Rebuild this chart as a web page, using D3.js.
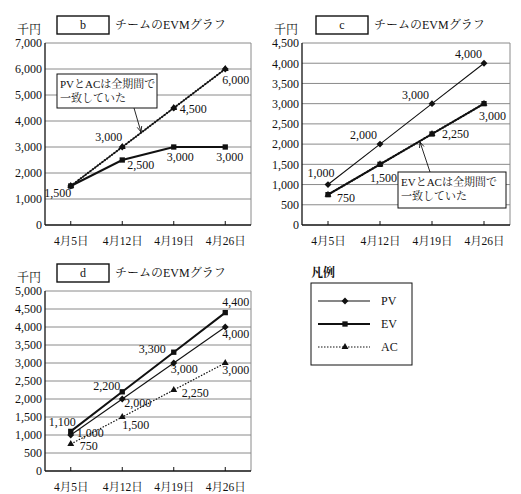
<!DOCTYPE html>
<html>
<head>
<meta charset="utf-8">
<script src="https://cdn.jsdelivr.net/npm/d3@7"></script>
<style>
  body { margin: 0; background: #fff; }
  svg text { font-family: "Liberation Serif", "Noto Serif CJK JP", "Noto Sans CJK JP", serif; fill: #111; }
</style>
</head>
<body>
<div id="container"></div>
<script>
"use strict";

// data
const dates = ["4月5日", "4月12日", "4月19日", "4月26日"];

const bPV = [1500, 3000, 4500, 6000];
const bEV = [1500, 2500, 3000, 3000];
const bAC = [1500, 3000, 4500, 6000];

const cPV = [1000, 2000, 3000, 4000];
const cEV = [750, 1500, 2250, 3000];
const cAC = [750, 1500, 2250, 3000];

const dPV = [1000, 2000, 3000, 4000];
const dEV = [1100, 2200, 3300, 4400];
const dAC = [750, 1500, 2250, 3000];

const seriesNames = ["PV", "EV", "AC"];

const svg = d3.select("#container")
    .append("svg")
    .attr("width", 521)
    .attr("height", 494);

const fmt = d3.format(",");

// marker shapes
const markerSym = {
  PV: d3.symbol().type(d3.symbolDiamond2).size(30),
  EV: d3.symbol().type(d3.symbolSquare2).size(36),
  AC: d3.symbol().type(d3.symbolTriangle2).size(34)
};
const lineStyle = {
  PV: { w: 1.1, dash: null },
  EV: { w: 2, dash: null },
  AC: { w: 1.2, dash: "1.5,1.5" }
};

function drawChart(cfg) {
  const g = svg.append("g");
  const x = d3.scalePoint().domain(dates).range([cfg.x0, cfg.x1]).padding(0.5);
  const y = d3.scaleLinear().domain([0, cfg.yMax]).range([cfg.y1, cfg.y0]);
  const ticks = d3.range(0, cfg.yMax + 1, cfg.step);

  // grid
  g.selectAll(".grid")
    .data(ticks.filter(t => t > 0))
    .enter().append("line")
      .attr("x1", cfg.x0).attr("x2", cfg.x1)
      .attr("y1", d => y(d)).attr("y2", d => y(d))
      .attr("stroke", "#8a8a8a").attr("stroke-width", 1);
  g.append("line")
    .attr("x1", cfg.x1).attr("x2", cfg.x1)
    .attr("y1", cfg.y0).attr("y2", cfg.y1)
    .attr("stroke", "#8a8a8a");

  // y axis
  const ya = g.append("g")
    .attr("transform", `translate(${cfg.x0},0)`)
    .call(d3.axisLeft(y).tickValues(ticks).tickFormat(fmt).tickSize(0).tickPadding(3));
  ya.select(".domain").remove();
  ya.selectAll("text").style("font-size", "12px").attr("font-family", null);

  // x axis
  const xa = g.append("g")
    .attr("transform", `translate(0,${cfg.y1})`)
    .call(d3.axisBottom(x).tickSize(0).tickPadding(12));
  xa.select(".domain").remove();
  xa.selectAll("text").style("font-size", "11.5px").attr("font-family", null);
  g.selectAll(".xt")
    .data(dates)
    .enter().append("line")
      .attr("x1", d => x(d)).attr("x2", d => x(d))
      .attr("y1", cfg.y1).attr("y2", cfg.y1 - 4)
      .attr("stroke", "#111");

  g.append("line")
    .attr("x1", cfg.x0).attr("x2", cfg.x0)
    .attr("y1", cfg.y0).attr("y2", cfg.y1)
    .attr("stroke", "#111").attr("stroke-width", 1.3);
  g.append("line")
    .attr("x1", cfg.x0).attr("x2", cfg.x1)
    .attr("y1", cfg.y1).attr("y2", cfg.y1)
    .attr("stroke", "#111").attr("stroke-width", 1.3);

  // unit + title box
  g.append("text")
    .attr("x", cfg.x0 - 28).attr("y", cfg.y0 - 9)
    .style("font-size", "12px")
    .text("千円");
  g.append("rect")
    .attr("x", cfg.x0 + cfg.boxDx).attr("y", cfg.y0 - 27)
    .attr("width", 52).attr("height", 18)
    .attr("fill", "#fff").attr("stroke", "#111").attr("stroke-width", 1.4);
  g.append("text")
    .attr("x", cfg.x0 + cfg.boxDx + 26).attr("y", cfg.y0 - 14)
    .attr("text-anchor", "middle")
    .style("font-size", "12px")
    .text(cfg.name);
  g.append("text")
    .attr("x", cfg.x0 + cfg.boxDx + 58).attr("y", cfg.y0 - 14)
    .style("font-size", "12px")
    .text("チームのEVMグラフ");

  // series lines + markers
  const line = d3.line().x((d, i) => x(dates[i])).y(d => y(d));
  cfg.order.forEach(name => {
    const vals = cfg.series[name];
    const st = lineStyle[name];
    g.append("path")
      .datum(vals)
      .attr("d", line)
      .attr("fill", "none")
      .attr("stroke", "#111")
      .attr("stroke-width", cfg.overlay === name ? 2 : st.w)
      .attr("stroke-dasharray", st.dash);
    g.selectAll(".m" + name)
      .data(vals)
      .enter().append("path")
        .attr("d", markerSym[name])
        .attr("transform", (d, i) => `translate(${x(dates[i])},${y(d)})`)
        .attr("fill", "#111");
  });

  // value labels
  cfg.labels.forEach(([name, i, anchor, dx, dy]) => {
    const v = cfg.series[name][i];
    g.append("text")
      .attr("x", x(dates[i]) + dx)
      .attr("y", y(v) + dy)
      .attr("text-anchor", anchor)
      .style("font-size", "12px")
      .text(fmt(v));
  });

  // callout
  if (cfg.callout) {
    const c = cfg.callout;
    g.append("line")
      .attr("x1", c.ax1).attr("y1", c.ay1)
      .attr("x2", c.ax2).attr("y2", c.ay2)
      .attr("stroke", "#111").attr("stroke-width", 0.9);
    const ang = Math.atan2(c.ay2 - c.ay1, c.ax2 - c.ax1);
    const hl = 6, hw = 0.4;
    g.append("path")
      .attr("d", `M${c.ax2 - hl * Math.cos(ang - hw)},${c.ay2 - hl * Math.sin(ang - hw)}L${c.ax2},${c.ay2}L${c.ax2 - hl * Math.cos(ang + hw)},${c.ay2 - hl * Math.sin(ang + hw)}`)
      .attr("fill", "none").attr("stroke", "#111").attr("stroke-width", 0.9);
    g.append("rect")
      .attr("x", c.x).attr("y", c.y).attr("width", c.w).attr("height", c.h)
      .attr("fill", "#fff").attr("stroke", "#111").attr("stroke-width", 1);
    c.lines.forEach((t, k) => {
      g.append("text")
        .attr("x", c.x + 3).attr("y", c.y + 14 + k * 14)
        .style("font-size", "11px")
        .text(t);
    });
  }
}

drawChart({
  name: "b", x0: 45, x1: 251, y0: 43, y1: 225, yMax: 7000, step: 1000, boxDx: 12,
  series: { PV: bPV, EV: bEV, AC: bAC }, order: ["EV", "PV", "AC"], overlay: "AC",
  labels: [
    ["PV", 0, "middle", -13, 11], ["PV", 1, "end", 0, -6], ["PV", 2, "start", 6, 5], ["PV", 3, "start", -3, 15],
    ["EV", 1, "start", 5, 9], ["EV", 2, "start", -7, 14], ["EV", 3, "start", -9, 14]
  ],
  callout: { x: 57, y: 74, w: 100, h: 34, lines: ["PVとACは全期間で", "一致していた"], ax1: 134, ay1: 108, ax2: 141, ay2: 132 }
});

drawChart({
  name: "c", x0: 302, x1: 510, y0: 43, y1: 225, yMax: 4500, step: 500, boxDx: 14,
  series: { PV: cPV, EV: cEV, AC: cAC }, order: ["PV", "EV", "AC"], overlay: "AC",
  labels: [
    ["PV", 0, "middle", -7, -8], ["PV", 1, "end", -3, -5], ["PV", 2, "end", -3, -5], ["PV", 3, "end", -2, -5],
    ["EV", 0, "start", 9, 7], ["EV", 1, "start", -10, 18], ["EV", 2, "start", 10, 4], ["EV", 3, "start", -5, 16]
  ],
  callout: { x: 398, y: 172, w: 108, h: 36, lines: ["EVとACは全期間で", "一致していた"], ax1: 430, ay1: 172, ax2: 420, ay2: 142 }
});

drawChart({
  name: "d", x0: 45, x1: 251, y0: 291, y1: 471, yMax: 5000, step: 500, boxDx: 12,
  series: { PV: dPV, EV: dEV, AC: dAC }, order: ["AC", "PV", "EV"],
  labels: [
    ["EV", 0, "end", 5, -5], ["PV", 0, "start", 6, 2], ["AC", 0, "start", 9, 6],
    ["EV", 1, "end", -2, -2], ["PV", 1, "start", 2, 8], ["AC", 1, "start", 0, 12],
    ["EV", 2, "end", -8, 1], ["PV", 2, "start", -3, 10], ["AC", 2, "start", 8, 7],
    ["EV", 3, "start", -3, -7], ["PV", 3, "start", -3, 11], ["AC", 3, "start", -3, 11]
  ]
});

// legend
const leg = svg.append("g");
leg.append("text")
  .attr("x", 311).attr("y", 277)
  .style("font-size", "12px").style("font-weight", "bold")
  .attr("font-family", "'Noto Sans CJK JP', sans-serif")
  .text("凡例");
leg.append("rect")
  .attr("x", 311).attr("y", 283).attr("width", 101).attr("height", 82)
  .attr("fill", "#fff").attr("stroke", "#111").attr("stroke-width", 1);
const legY = d3.scalePoint().domain(seriesNames).range([301, 347]);
seriesNames.forEach(name => {
  const st = lineStyle[name];
  leg.append("line")
    .attr("x1", 318).attr("x2", 370)
    .attr("y1", legY(name)).attr("y2", legY(name))
    .attr("stroke", "#111").attr("stroke-width", st.w)
    .attr("stroke-dasharray", st.dash);
  leg.append("path")
    .attr("d", markerSym[name])
    .attr("transform", `translate(345,${legY(name)})`)
    .attr("fill", "#111");
  leg.append("text")
    .attr("x", 381).attr("y", legY(name) + 4)
    .style("font-size", "12px")
    .text(name);
});
</script>
</body>
</html>
